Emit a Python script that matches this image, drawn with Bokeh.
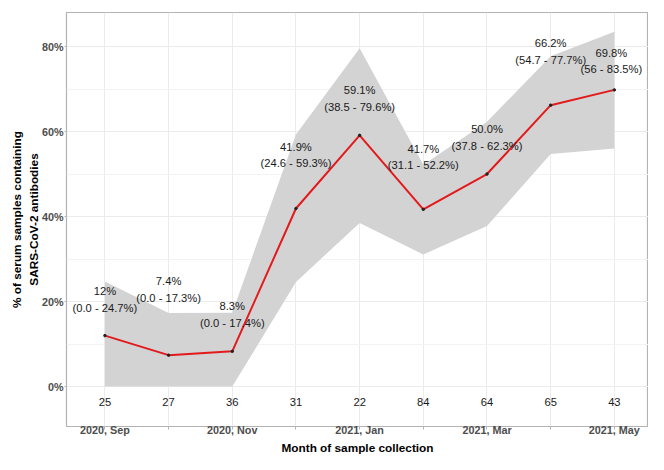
from bokeh.plotting import figure
from bokeh.models import FixedTicker, ColumnDataSource, Range1d, Title
from bokeh.embed import file_html
from bokeh.resources import INLINE
from bokeh.core.properties import value

# ---- data ----
months = list(range(9))
month_labels = ["2020, Sep", "", "2020, Nov", "", "2021, Jan", "", "2021, Mar", "", "2021, May"]
sample_sizes = [25, 27, 36, 31, 22, 84, 64, 65, 43]
prevalence = [12, 7.4, 8.3, 41.9, 59.1, 41.7, 50.0, 66.2, 69.8]
ci_lower = [0, 0, 0, 24.6, 38.5, 31.1, 37.8, 54.7, 56]
ci_upper = [24.7, 17.3, 17.4, 59.3, 79.6, 52.2, 62.3, 77.7, 83.5]
prev_text = ["12%", "7.4%", "8.3%", "41.9%", "59.1%", "41.7%", "50.0%", "66.2%", "69.8%"]
ci_text = ["(0.0 - 24.7%)", "(0.0 - 17.3%)", "(0.0 - 17.4%)", "(24.6 - 59.3%)",
           "(38.5 - 79.6%)", "(31.1 - 52.2%)", "(37.8 - 62.3%)", "(54.7 - 77.7%)",
           "(56 - 83.5%)"]
label_nudge = [8.5, 15.4, 8.7, 12.6, 8.7, 12.3, 8.6, 12.7, 6.8]
label_dx = [0, 0, 0, 0, 0, 0, 0, 0, -3]
y_ticks = [0, 20, 40, 60, 80]
y_minor = [10, 30, 50, 70]
n_label_y = -3.5
x_title = "Month of sample collection"
y_title = "% of serum samples containing\nSARS-CoV-2 antibodies"

FONT = "Liberation Sans"

src = ColumnDataSource(dict(
    x=months, y=prevalence, lo=ci_lower, hi=ci_upper, n=[str(v) for v in sample_sizes],
    lab=[a + "\n" + b for a, b in zip(prev_text, ci_text)],
    laby=[p + d for p, d in zip(prevalence, label_nudge)],
    dx=label_dx,
    ny=[n_label_y] * len(months),
))

p = figure(width=648, height=454, output_backend="svg", toolbar_location=None,
           x_range=Range1d(-0.603, 8.536), y_range=Range1d(-9.38, 88.0),
           min_border_top=12, min_border_right=0, min_border_left=66, min_border_bottom=0)

p.background_fill_color = "white"
p.border_fill_color = "white"
p.outline_line_color = "#B3B3B3"
p.outline_line_width = 1.2

# grid
p.xgrid.ticker = FixedTicker(ticks=months)
p.ygrid.ticker = FixedTicker(ticks=y_ticks, minor_ticks=y_minor)
p.xgrid.grid_line_color = "#EBEBEB"
p.ygrid.grid_line_color = "#EBEBEB"
p.ygrid.minor_grid_line_color = "#F3F3F3"

p.varea(x="x", y1="lo", y2="hi", source=src, fill_color="#D3D3D3", fill_alpha=1)
p.line(x="x", y="y", source=src, line_color="#E31A1C", line_width=2)
p.scatter(x="x", y="y", source=src, size=2.5, color="#222222")

p.text(x="x", y="laby", text="lab", source=src, x_offset="dx", text_font=value(FONT),
       text_font_size="11.2px", text_align="center", text_baseline="middle",
       text_line_height=1.4, text_color="#1A1A1A")
p.text(x="x", y="ny", text="n", source=src, text_font=value(FONT),
       text_font_size="11.2px", text_align="center", text_baseline="middle",
       text_color="#1A1A1A")

xa = p.xaxis[0]
xa.ticker = FixedTicker(ticks=months)
xa.major_label_overrides = {i: l for i, l in zip(months, month_labels)}
xa.axis_line_color = None
xa.major_tick_line_color = "#B3B3B3"
xa.major_tick_out = 3
xa.major_tick_in = 0
xa.minor_tick_line_color = None
xa.major_label_standoff = -6
xa.major_label_text_font = FONT
xa.major_label_text_font_style = "bold"
xa.major_label_text_font_size = "10.8px"
xa.major_label_text_color = "#4D4D4D"

p.add_layout(Title(text=x_title, align="center", text_font=FONT, text_font_style="bold",
                   text_font_size="11.8px", text_color="#000000", standoff=0), "below")

ya = p.yaxis[0]
ya.ticker = FixedTicker(ticks=y_ticks)
ya.major_label_overrides = {t: f"{t}%" for t in y_ticks}
ya.axis_line_color = None
ya.major_tick_line_color = "#B3B3B3"
ya.major_tick_out = 2
ya.major_tick_in = 0
ya.minor_tick_line_color = None
ya.major_label_standoff = 1
ya.major_label_text_font = FONT
ya.major_label_text_font_style = "bold"
ya.major_label_text_font_size = "10.8px"
ya.major_label_text_color = "#4D4D4D"
ya.axis_label = y_title
ya.axis_label_text_font = FONT
ya.axis_label_text_font_style = "bold"
ya.axis_label_text_font_size = "11.8px"
ya.axis_label_text_color = "#000000"
ya.axis_label_standoff = -2

open("out.html", "w").write(file_html(p, INLINE))
